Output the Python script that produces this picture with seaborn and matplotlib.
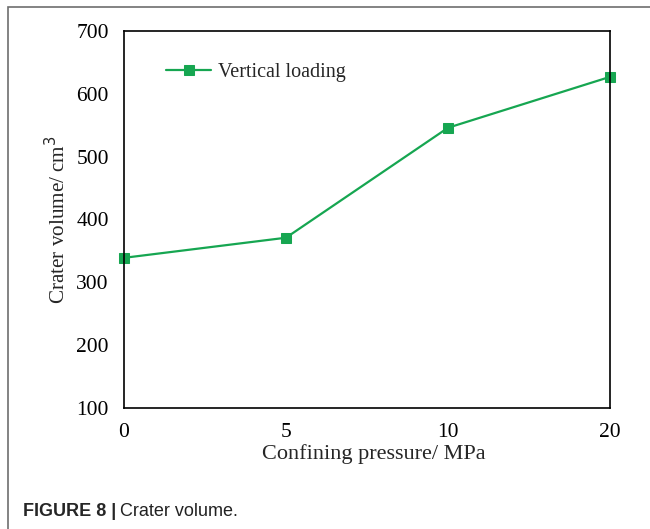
import numpy as np
import pandas as pd
import matplotlib
matplotlib.use('Agg')
import matplotlib.pyplot as plt
from matplotlib.patches import Rectangle
import seaborn as sns

sns.set_style('white')
plt.rcParams['font.family'] = ['Liberation Serif', 'DejaVu Serif']

# data
pressure = ['0', '5', '10', '20']
volume = [339, 371, 546, 627]

df = pd.DataFrame({'pos': np.arange(len(pressure)), 'volume': volume})

fig = plt.figure(figsize=(6.5, 5.29), dpi=100)
ax = fig.add_axes([124 / 650, 1 - 408 / 529, (610 - 124) / 650, (408 - 31) / 529])

green = '#16a651'
sns.lineplot(data=df, x='pos', y='volume', ax=ax, color=green, lw=1.6,
             marker='s', markersize=7, markeredgecolor=green, label='Vertical loading',
             clip_on=False)

ax.set_xlim(0, len(pressure) - 1)
ax.set_ylim(100, 700)
ax.set_xticks(df['pos'])
ax.set_xticklabels(pressure)
ax.set_yticks(range(100, 701, 100))
ax.tick_params(direction='in', length=6, width=1, labelsize=15.5, colors='black',
               top=False, right=False)
ax.tick_params(axis='x', pad=11)
ax.tick_params(axis='y', pad=11)
for s in ax.spines.values():
    s.set_color('black')
    s.set_linewidth(1.2)

ax.set_xlabel('Confining pressure/ MPa', fontsize=16)
ax.xaxis.set_label_coords((374 - 124) / 486, -0.0965)
ax.set_ylabel('Crater volume/ cm$^3$', fontsize=15.2)
ax.yaxis.set_label_coords(-(124 - 70) / 486, 0.5)

leg = ax.legend(loc='upper left', bbox_to_anchor=(0.05, 0.963), frameon=False,
                fontsize=14.5, handlelength=2.2, handletextpad=0.35)

# figure frame and caption
fig.patches.append(Rectangle((8 / 650, -0.1), 1.2, 1.1 - 7 / 529,
                             transform=fig.transFigure, fill=False,
                             edgecolor='#6e6e6e', lw=1.2))
t1 = fig.text(23 / 650, 1 - 511.5 / 529, 'FIGURE 8 |', family='Liberation Sans',
              fontweight='bold', fontsize=13, va='center')
fig.canvas.draw()
bb = t1.get_window_extent()
fig.text((bb.x1 + 4) / 650, 1 - 511.5 / 529, 'Crater volume.', family='Liberation Sans',
         fontsize=13, va='center', color='#222222')

fig.savefig('out.png', dpi=100)
